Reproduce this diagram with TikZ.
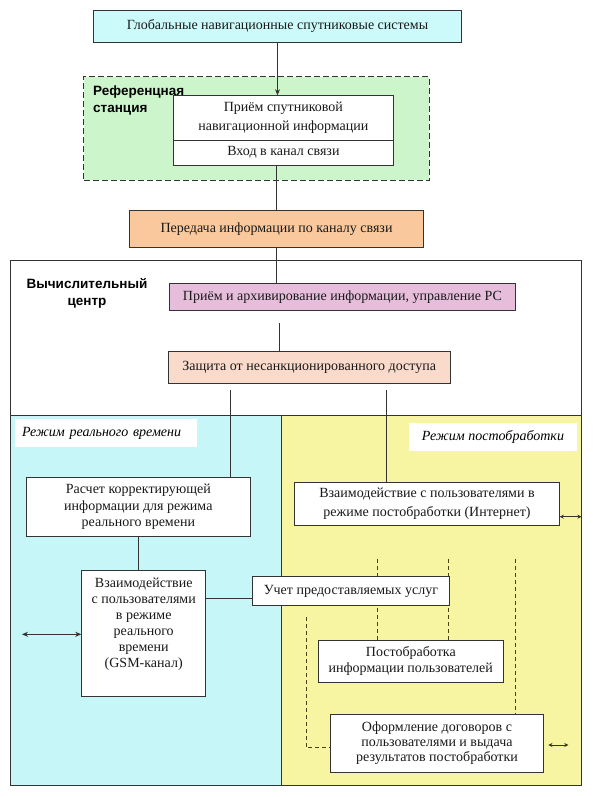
\documentclass[tikz,border=0pt]{standalone}
\usepackage{fontspec}
\setmainfont{Liberation Serif}
\newfontfamily\lsans{Liberation Sans}
\usetikzlibrary{arrows.meta,calc}
\definecolor{edgec}{HTML}{333333}
\definecolor{gnssc}{HTML}{CCFAFA}
\definecolor{greenc}{HTML}{CCF5CC}
\definecolor{orangec}{HTML}{F9C89C}
\definecolor{pinkc}{HTML}{E6BEDC}
\definecolor{peachc}{HTML}{FADACA}
\definecolor{cyanr}{HTML}{C6F6F8}
\definecolor{yellr}{HTML}{F8F5A2}
\definecolor{dashc}{HTML}{4A4010}
\pgfdeclarelayer{bglayer}
\pgfdeclarelayer{midlayer}
\pgfsetlayers{bglayer,midlayer,main}
\begin{document}
\begin{tikzpicture}[x=1pt,y=-1pt,
  box/.style={draw=edgec, line width=0.9pt, fill=white, rectangle, inner sep=2pt, align=center, text=black!90, font=\fontsize{14}{16.5}\selectfont},
  region/.style={draw=edgec, line width=0.9pt, rectangle, inner sep=0},
  conn/.style={draw=edgec, line width=0.9pt},
  dconn/.style={draw=dashc, line width=1pt, dash pattern=on 4pt off 3pt},
  tipL/.tip={Stealth[length=6pt,width=5pt]},
  tipS/.tip={Stealth[length=4pt,width=4pt]},
  blabel/.style={font=\lsans\bfseries\fontsize{13.5}{17}\selectfont, inner sep=0},
  ilabel/.style={font=\itshape\fontsize{14}{16}\selectfont, fill=white, inner sep=0, minimum height=28pt}
]
\useasboundingbox (0,0) rectangle (592,797);

% containers (background layer)
\begin{pgfonlayer}{bglayer}
\node[region, fill=white, minimum width=570.8pt, minimum height=524.3pt] (vc) at (296,522.85) {};
\node[region, fill=cyanr, minimum width=270.4pt, minimum height=369.3pt] (rt) at (145.8,600.35) {};
\node[region, fill=yellr, minimum width=300.4pt, minimum height=369.3pt] (pp) at (431.2,600.35) {};
\end{pgfonlayer}

% top part
\node[box, fill=gnssc, minimum width=368pt, minimum height=32.7pt] (gnss) at (277.5,26.4) {Глобальные навигационные спутниковые системы};
\node[draw=edgec, line width=1pt, dash pattern=on 6pt off 3pt, fill=greenc, rectangle, minimum width=345.5pt, minimum height=103.3pt] (refst) at (256.6,128.4) {};
\node[blabel, anchor=west, align=left] (reflab) at (93,100) {Референцная\\станция};
\node[box, font=\fontsize{14}{18.4}\selectfont, minimum width=220.8pt, minimum height=44.3pt] (priem) at (283.4,117.85) {Приём спутниковой\\навигационной информации};
\node[box, minimum width=220.8pt, minimum height=25pt] (vhod) at (283.4,152.5) {Вход в канал связи};
\node[box, fill=orangec, minimum width=294pt, minimum height=36.6pt] (orange) at (276.55,229) {Передача информации по каналу связи};

% computing centre
\node[blabel, align=center] (vclab) at (87,293.4) {Вычислительный\\центр};
\node[box, fill=pinkc, minimum width=346pt, minimum height=27.4pt] (pink) at (342.45,297) {Приём и архивирование информации, управление РС};
\node[box, fill=peachc, minimum width=282.4pt, minimum height=31.3pt] (peach) at (309.2,367.35) {Защита от несанкционированного доступа};

% mode labels
\node[ilabel, minimum width=182pt, text width=168pt, inner xsep=7pt, align=left] (rtlab) at (106,433) {Режим реального времени};
\node[ilabel, minimum width=167.4pt] (pplab) at (493,437.2) {Режим постобработки};

% real time
\node[box, minimum width=223.3pt, minimum height=59.7pt] (raschet) at (138.35,506.85) {Расчет корректирующей\\информации для режима\\реального времени};
\node[box, font=\fontsize{14}{16}\selectfont, minimum width=124pt, minimum height=126pt] (vzrt) at (143.7,633.7) {Взаимодействие\\с пользователями\\в режиме\\реального\\времени\\(GSM-канал)\\[6pt]};

% post processing
\node[box, font=\fontsize{14}{19}\selectfont, minimum width=264.6pt, minimum height=43.4pt] (post) at (427,504) {Взаимодействие с пользователями в\\режиме постобработки (Интернет)};
\node[box, minimum width=196.8pt, minimum height=28.8pt] (uchet) at (350.9,591.1) {Учет предоставляемых услуг};
\node[box, minimum width=185pt, minimum height=42.3pt] (postp) at (410.8,661.15) {Постобработка\\информации пользователей};
\node[box, font=\fontsize{14}{15}\selectfont, minimum width=212.6pt, minimum height=58pt] (ofo) at (437,743.3) {Оформление договоров с\\пользователями и выдача\\результатов постобработки};

% solid connectors
\draw[conn, -tipL] (gnss.south) -- (gnss.south |- priem.north);
\draw[conn] (orange.north |- vhod.south) -- (orange.north);
\draw[conn] (orange.south) -- (orange.south |- pink.north);
\coordinate (pk) at ($(peach.north west)!0.395!(peach.north east)$);
\draw[conn, shorten <=12.3pt] (pk |- pink.south) -- (pk);
\coordinate (pl) at ($(peach.south west)!0.223!(peach.south east)$);
\coordinate (pr) at ($(peach.south west)!0.772!(peach.south east)$);
\draw[conn, shorten <=7pt] (pl) -- (pl |- raschet.north);
\draw[conn, shorten <=7pt] (pr) -- (pr |- post.north);
\draw[conn] (raschet.south) -- (raschet.south |- vzrt.north);
\coordinate (uc) at ($(uchet.south west)!0.24!(uchet.north west)$);
\draw[conn] (uc -| vzrt.east) -- (uc);

% double arrows
\coordinate (la) at (22,634.3);
\draw[conn, tipL-tipL] (la) -- (la -| vzrt.west);
\coordinate (pa) at (581.4,516.7);
\draw[conn, tipS-tipS] (pa -| post.east) -- (pa);
\coordinate (oa) at (568.3,745);
\draw[conn, tipS-tipS] ([xshift=4.7pt]oa -| ofo.east) -- (oa);

% dashed connectors
\begin{pgfonlayer}{midlayer}
\coordinate (d1) at (377,558.5);
\coordinate (d2) at (448.5,558.5);
\coordinate (d3) at (515.3,558.5);
\coordinate (d4) at (306,617);
\draw[dconn] (d1) -- (d1 |- postp.north);
\draw[dconn] (d2) -- (d2 |- postp.north);
\draw[dconn] (d3) -- (d3 |- ofo.north);
\draw[dconn] (d4) |- ($(ofo.west)+(0,4.4)$);
\end{pgfonlayer}
\end{tikzpicture}
\end{document}
